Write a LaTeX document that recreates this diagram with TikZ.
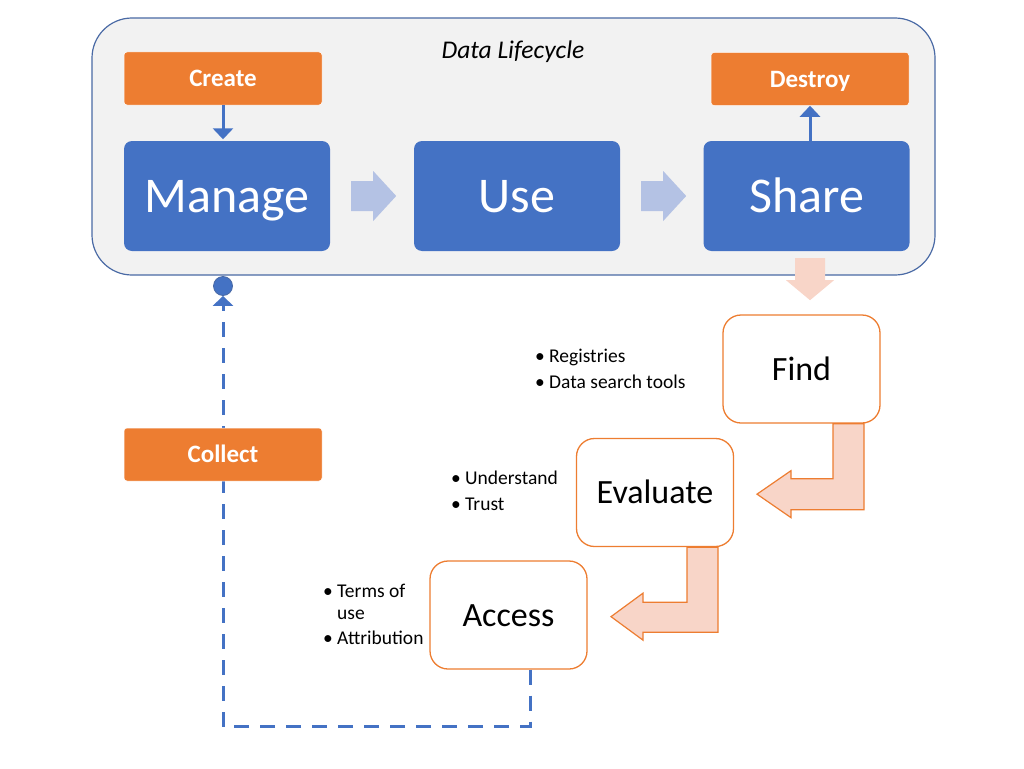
\documentclass[tikz,border=0pt]{standalone}
\usepackage{fontspec}
\setmainfont{Carlito}
\usetikzlibrary{arrows.meta,calc}
\definecolor{cblue}{HTML}{4472C4}
\definecolor{corange}{HTML}{ED7D31}
\definecolor{cgray}{HTML}{F2F2F2}
\definecolor{cpeach}{HTML}{F8D5C8}
\definecolor{clblue}{HTML}{B4C2E4}
\definecolor{cframe}{HTML}{4A6AA5}
\begin{document}
\begin{tikzpicture}[x=1pt,y=-1pt,
  frame/.style={draw=cframe, line width=1.2pt, fill=cgray, rounded corners=40pt},
  tag/.style={fill=corange, draw=white, line width=0.5pt, rounded corners=3pt, text=white,
    font=\bfseries\fontsize{25}{29}\selectfont, minimum width=198pt, minimum height=53pt, inner sep=0pt,
    text height=16pt, text depth=0pt},
  stage/.style={fill=cblue, rounded corners=8pt, text=white, font=\fontsize{50}{60}\selectfont,
    minimum width=206pt, minimum height=110pt, inner sep=0pt, text height=33pt, text depth=0pt},
  discbox/.style={draw=corange, line width=1.3pt, fill=white, rounded corners=18pt,
    font=\fontsize{34}{40}\selectfont, minimum width=157pt, minimum height=108pt, inner sep=0pt,
    text height=22pt, text depth=0pt},
  bulletitem/.style={anchor=base west, font=\fontsize{19.5}{22}\selectfont, inner sep=0pt, align=left},
  blockarrow/.style={fill=clblue},
  bentarrow/.style={fill=cpeach, draw=corange, line width=1.2pt, line join=miter},
  conn/.style={draw=cblue, line width=3pt, -{Triangle[length=11pt,width=20pt]}},
  dashconn/.style={draw=cblue, line width=3pt, dash pattern=on 15pt off 11pt,
    -{Triangle[length=10pt,width=20pt]}}
]
\useasboundingbox (0,0) rectangle (1024,768);

% frame
\node[frame, minimum width=843pt, minimum height=257pt, inner sep=0pt] (frame) at (513.5,146.5) {};
\node[anchor=base, font=\itshape\fontsize{25.5}{30}\selectfont, inner sep=0pt] (title) at (513,59) {Data Lifecycle};

% top boxes
\node[tag] (create) at (223,78.5) {Create};
\node[tag] (destroy) at (810,79) {Destroy};
\node[stage] (manage) at (227,196) {Manage};
\node[stage] (use) at (517,196) {Use};
\node[stage] (share) at (806.5,196) {Share};

% block arrows
\fill[blockarrow] ($(manage.east)+(21,-15)$) -- ++(22,0) -- ++(0,-10) -- ++(23,25) -- ++(-23,25) -- ++(0,-10) -- ++(-22,0) -- cycle;
\fill[blockarrow] ($(use.east)+(21,-15)$) -- ++(22,0) -- ++(0,-10) -- ++(23,25) -- ++(-23,25) -- ++(0,-10) -- ++(-22,0) -- cycle;

% create / destroy connectors
\draw[conn, shorten >=1.5pt] (create.south) -- (create.south |- manage.north);
\draw[conn] (destroy.south |- share.north) -- (destroy.south);

% discovery boxes
\node[discbox] (find) at (801.5,369) {Find};
\node[discbox] (evaluate) at (655,492.5) {Evaluate};
\node[discbox] (access) at (508.5,615) {Access};

% share -> find arrow
\fill[cpeach] ($(share.south)+(-11.5,7)$) -- ++(30,0) -- ++(0,22) -- ++(9,0) -- ++(-24,20) -- ++(-24,-20) -- ++(9,0) -- cycle;

% bent arrows
\draw[bentarrow] ($(find.south)+(31.5,0)$) -- ++(31,0) -- ++(0,86) -- ++(-73,0) -- ++(0,8) -- ++(-34,-23.5) -- ++(34,-23.5) -- ++(0,8) -- ++(42,0) -- cycle;
\draw[bentarrow] ($(evaluate.south)+(32,0)$) -- ++(31,0) -- ++(0,85) -- ++(-75,0) -- ++(0,8) -- ++(-32,-23.5) -- ++(32,-23.5) -- ++(0,9) -- ++(44,0) -- cycle;

% bullets
\node[bulletitem] (b1) at (535,362) {\makebox[14pt][l]{•}Registries};
\node[bulletitem] (b2) at (535,388) {\makebox[14pt][l]{•}Data search tools};
\node[bulletitem] (b3) at (451,484) {\makebox[14pt][l]{•}Understand};
\node[bulletitem] (b4) at (451,510) {\makebox[14pt][l]{•}Trust};
\node[bulletitem] (b5) at (323,619) {\makebox[14pt][l]{•}Terms of\\\hspace*{14pt}use};
\node[bulletitem] (b6) at (323,644) {\makebox[14pt][l]{•}Attribution};

% return connector
\node[circle, fill=cblue, draw=cframe, line width=0.8pt, minimum size=19pt, inner sep=0pt] (dot) at (223,286) {};
\draw[dashconn] ([xshift=21.5pt]access.south) -- ++(0,57) -| (dot.south);
\node[tag] (collect) at (223,454.5) {Collect};
\end{tikzpicture}
\end{document}
